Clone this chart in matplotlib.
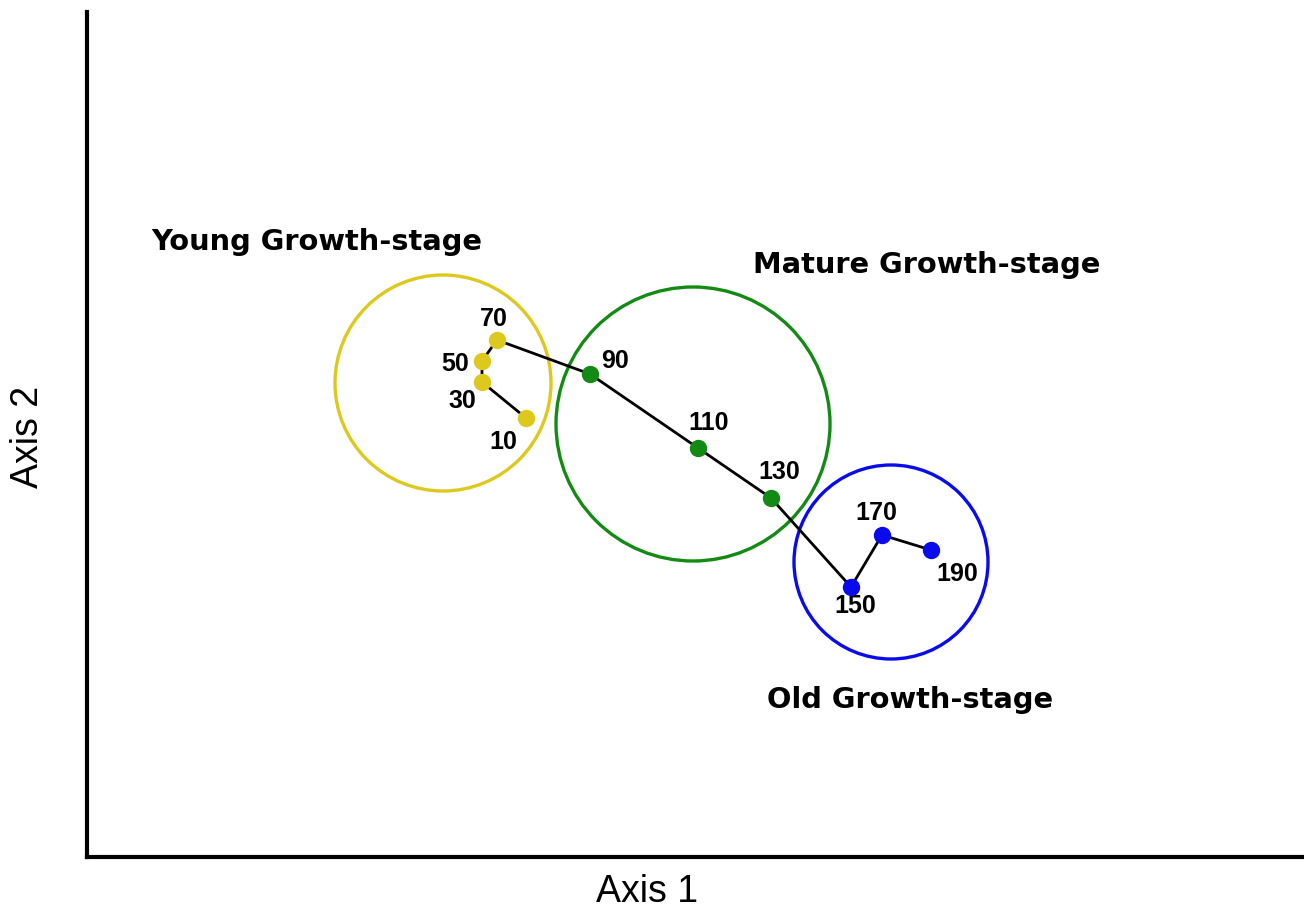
import matplotlib
matplotlib.use("Agg")
import matplotlib.pyplot as plt
from matplotlib.patches import Circle
from matplotlib import font_manager as fm

plt.rcParams['font.family'] = ['Liberation Sans', 'DejaVu Sans']

# stand age and ordination scores (Axis 1, Axis 2)
ages = [10, 30, 50, 70, 90, 110, 130, 150, 170, 190]
axis1 = [439, 395, 395, 410, 503, 611, 684, 764, 795, 844]
axis2 = [439, 475, 496, 517, 483, 409, 359, 270, 322, 307]
stage = ['y', 'y', 'y', 'y', 'm', 'm', 'm', 'o', 'o', 'o']

# growth-stage envelopes: name, centre x, centre y, radius
stages = {
    'y': ('Young Growth-stage', 356, 474, 108),
    'm': ('Mature Growth-stage', 606, 433, 137),
    'o': ('Old Growth-stage', 804, 295, 97),
}
colors = {'y': '#DDC91E', 'm': '#138A13', 'o': '#0A0AEE'}
stage_label_pos = {'y': (230, 615), 'm': (840, 592), 'o': (823, 157)}

# label offsets (points) for each age label
offsets = [(-16, -17), (-14, -14), (-19, -2), (-2, 15), (18, 9),
           (8, 18), (6, 19), (3, -14), (-4, 16), (19, -17)]

# pick the regular-width Liberation Sans Bold (not the Narrow one)
bold_file = None
for f in fm.fontManager.ttflist:
    if f.name == 'Liberation Sans' and f.weight in (700, 'bold') and f.style == 'normal' \
            and 'Narrow' not in f.fname:
        bold_file = f.fname
        break
if bold_file:
    num_font = fm.FontProperties(fname=bold_file, size=18)
else:
    num_font = fm.FontProperties(family='DejaVu Sans', weight='bold', size=16)

fig = plt.figure(figsize=(13.04, 9.13), dpi=100)
ax = fig.add_axes([87/1304, 56/913, 1216/1304, 845/913])

for key, (name, cx, cy, r) in stages.items():
    ax.add_patch(Circle((cx, cy), r, fill=False, edgecolor=colors[key], lw=2.4))
    lx, ly = stage_label_pos[key]
    ax.text(lx, ly, name, ha='center', va='center', fontsize=20.8,
            fontweight='bold', family='DejaVu Sans')

ax.plot(axis1, axis2, color='black', lw=2, zorder=3)
for x, y, s in zip(axis1, axis2, stage):
    ax.plot(x, y, 'o', color=colors[s], ms=11.5, zorder=4)

for x, y, a, off in zip(axis1, axis2, ages, offsets):
    ax.annotate(str(a), (x, y), xytext=off, textcoords='offset points',
                ha='center', va='center', fontproperties=num_font)

ax.set_xlim(0, 1216)
ax.set_ylim(0, 845)
ax.set_xticks([])
ax.set_yticks([])
for side in ['top', 'right']:
    ax.spines[side].set_visible(False)
for side in ['left', 'bottom']:
    ax.spines[side].set_linewidth(3)

fig.text(647/1304, 1 - 892/913, 'Axis 1', ha='center', va='center', fontsize=27)
fig.text(28/1304, 1 - 437/913, 'Axis 2', ha='center', va='center', fontsize=27, rotation=90)

fig.savefig('out.png', dpi=100)
